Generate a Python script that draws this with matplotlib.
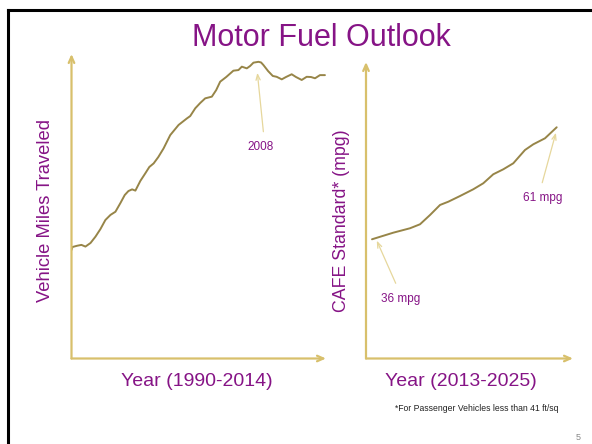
import matplotlib
matplotlib.use("Agg")
import matplotlib.pyplot as plt
from matplotlib.lines import Line2D

plt.rcParams['font.family'] = ['Liberation Sans Narrow', 'Liberation Sans', 'DejaVu Sans']

# Vehicle miles traveled (trillions, rolling 12 month), 1990-2014
vmt_years = [1990.00, 1990.09, 1990.54, 1990.94, 1991.32, 1991.80, 1992.27, 1992.74,
             1993.21, 1993.69, 1994.16, 1994.63, 1995.04, 1995.39, 1995.74, 1996.05,
             1996.52, 1996.99, 1997.37, 1997.78, 1998.22, 1998.72, 1999.35, 2000.14,
             2000.93, 2001.24, 2001.72, 2002.19, 2002.66, 2003.29, 2003.70, 2004.08,
             2004.65, 2005.33, 2005.81, 2006.13, 2006.60, 2006.91, 2007.23, 2007.70,
             2007.95, 2008.17, 2008.62, 2009.06, 2009.43, 2009.91, 2010.31, 2010.85,
             2011.26, 2011.80, 2012.27, 2012.68, 2013.06, 2013.53, 2014.00]
vmt_values = [2.140, 2.154, 2.160, 2.164, 2.156, 2.173, 2.203, 2.239,
              2.282, 2.306, 2.321, 2.362, 2.400, 2.419, 2.427, 2.421,
              2.467, 2.503, 2.533, 2.550, 2.580, 2.621, 2.684, 2.732,
              2.763, 2.774, 2.811, 2.836, 2.858, 2.866, 2.897, 2.937,
              2.959, 2.989, 2.992, 3.008, 3.000, 3.011, 3.027, 3.031,
              3.028, 3.016, 2.987, 2.964, 2.960, 2.948, 2.959, 2.972,
              2.959, 2.945, 2.960, 2.959, 2.953, 2.968, 2.968]

# CAFE standard (mpg), 2013-2025
cafe_years = [2013.00, 2014.38, 2015.47, 2016.12, 2016.77, 2017.42, 2017.96, 2018.72,
              2019.58, 2020.23, 2020.88, 2021.53, 2022.18, 2022.94, 2023.48, 2024.24,
              2025.00]
cafe_values = [36.0, 37.47, 38.46, 39.35, 41.42, 43.66, 44.39, 45.66,
               47.16, 48.50, 50.51, 51.62, 52.96, 55.93, 57.20, 58.54,
               61.0]

W, H = 592, 444
PURPLE = '#861486'
GOLD = '#D8C06C'
LINE = '#978548'
PALE = '#E6D79C'


def px_axes(fig, x0, y0, x1, y1):
    # rectangle given in image pixels (top-left origin)
    return fig.add_axes([x0 / W, 1 - y0 / H, (x1 - x0) / W, (y0 - y1) / H])


def arrow_axes(ax):
    ax.set_axis_off()
    kw = dict(arrowstyle='->,head_length=0.45,head_width=0.2', color=GOLD, lw=1.6,
              shrinkA=0, shrinkB=0)
    ax.annotate('', xy=(1, 0), xytext=(0, 0), xycoords='axes fraction', arrowprops=kw)
    ax.annotate('', xy=(0, 1), xytext=(0, 0), xycoords='axes fraction', arrowprops=kw)


def pointer(ax, tail, tip):
    ax.annotate('', xy=tip, xytext=tail,
                arrowprops=dict(arrowstyle='->,head_length=0.4,head_width=0.15',
                                color=PALE, lw=0.9, shrinkA=0, shrinkB=0))


fig = plt.figure(figsize=(W / 100, H / 100), dpi=100)

# slide frame
fig.add_artist(Line2D([7.5 / W, 7.5 / W], [0, 1 - 10.5 / H], color='black', lw=2.2))
fig.add_artist(Line2D([7.5 / W, 1], [1 - 10.5 / H, 1 - 10.5 / H], color='black', lw=2.2))

fig.text(321 / W, 1 - 38 / H, 'Motor Fuel Outlook', color=PURPLE, fontsize=22,
         ha='center', va='center')

# left: VMT
ax1 = px_axes(fig, 71.5, 358.5, 326, 54)
ax1.plot(vmt_years, vmt_values, color=LINE, lw=1.4, solid_capstyle='round')
ax1.set_xlim(1990, 2014.1)
ax1.set_ylim(1.626, 3.068)
arrow_axes(ax1)
pointer(ax1, (2008.17, 2.700), (2007.60, 2.979))
ax1.text(2007.95, 2.628, '2008', color=PURPLE, fontsize=8.5, ha='center', va='center')

# right: CAFE
ax2 = px_axes(fig, 366, 358.5, 573, 62)
ax2.plot(cafe_years, cafe_values, color=LINE, lw=1.4, solid_capstyle='round')
ax2.set_xlim(2012.61, 2026.06)
ax2.set_ylim(9.39, 75.57)
arrow_axes(ax2)
pointer(ax2, (2024.06, 48.63), (2024.95, 59.79))
ax2.text(2024.09, 45.15, '61 mpg', color=PURPLE, fontsize=8.5, ha='center', va='center')
pointer(ax2, (2014.54, 26.18), (2013.31, 35.69))
ax2.text(2014.88, 22.61, '36 mpg', color=PURPLE, fontsize=8.5, ha='center', va='center')

# axis titles
fig.text(46 / W, 1 - 210 / H, 'Vehicle Miles Traveled', color=PURPLE, fontsize=13.2,
         rotation=90, ha='center', va='center')
fig.text(197 / W, 1 - 381 / H, 'Year (1990-2014)', color=PURPLE, fontsize=14,
         ha='center', va='center')
fig.text(342 / W, 1 - 221 / H, 'CAFE Standard* (mpg)', color=PURPLE, fontsize=12.8,
         rotation=90, ha='center', va='center')
fig.text(461 / W, 1 - 381 / H, 'Year (2013-2025)', color=PURPLE, fontsize=14,
         ha='center', va='center')

fig.text(477 / W, 1 - 408 / H, '*For Passenger Vehicles less than 41 ft/sq', color='#222222',
         fontsize=6.2, ha='center', va='center')
fig.text(578 / W, 1 - 437 / H, '5', color='#888888', fontsize=6.5, ha='center', va='center')

fig.savefig('out.png', dpi=100)
